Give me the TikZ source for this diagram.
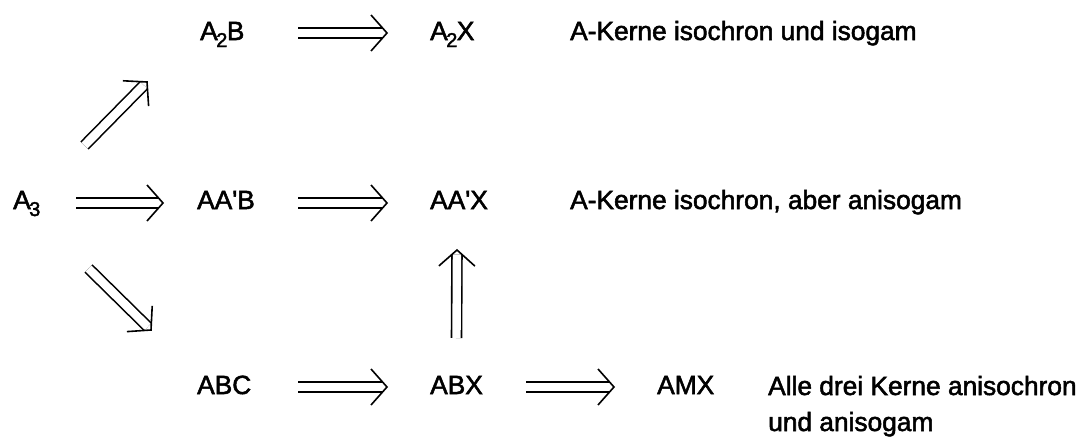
\documentclass[tikz,border=0pt]{standalone}
\usepackage{fontspec}
\setmainfont{Liberation Sans}[Ligatures=TeXOff, FakeBold=2]
\usetikzlibrary{calc}
\newcommand{\subnum}[1]{\kern-1.5pt\raisebox{-7pt}{\fontsize{20}{20}\selectfont #1}\kern-0.5pt}
\tikzset{
  lbl/.style={anchor=base west, inner sep=0pt, font=\fontsize{26.3}{36}\selectfont},
  dblline/.style={draw=black, line width=1.6pt, double=white, double distance=8.4pt},
  headline/.style={draw=black, line width=1.6pt, line cap=butt, line join=miter},
}
\newcommand{\darr}[2]{%
  \draw[dblline] (#1) -- ($(#2)!4.6pt!(#1)$);
  \coordinate (hb) at ($(#2)!16pt!(#1)$);
  \draw[headline] ($(hb)!18pt!90:(#2)$) -- (#2) -- ($(hb)!18pt!-90:(#2)$);
}
\begin{document}
\begin{tikzpicture}[x=1pt,y=-1pt]
\useasboundingbox (0,0) rectangle (1085,442);
% nodes
\node[lbl] (A2B) at (200,40) {A\subnum{2}B};
\node[lbl] (A2X) at (430,40) {A\subnum{2}X};
\node[lbl] (t1)  at (570,40) {A-Kerne isochron und isogam};
\node[lbl] (A3)  at (13,209) {A\subnum{3}};
\node[lbl] (AAB) at (197,209) {AA'B};
\node[lbl] (AAX) at (430,209) {AA'X};
\node[lbl] (t2)  at (570,209) {A-Kerne isochron, aber anisogam};
\node[lbl] (ABC) at (197,394) {ABC};
\node[lbl] (ABX) at (430,394) {ABX};
\node[lbl] (AMX) at (657,394) {AMX};
\node[lbl, align=left] (t3) at (768,431) {Alle drei Kerne anisochron\\und anisogam};
% connector ends
\coordinate (s1) at ([shift={(98,-7)}]A2B.base west);
\coordinate (e1) at ([shift={(-43,-7)}]A2X.base west);
\coordinate (s2) at ([shift={(63,-6)}]A3.base west);
\coordinate (e2) at ([shift={(-34,-6)}]AAB.base west);
\coordinate (s3) at ([shift={(101,-6)}]AAB.base west);
\coordinate (e3) at ([shift={(-43,-6)}]AAX.base west);
\coordinate (s4) at ([shift={(101,-7)}]ABC.base west);
\coordinate (e4) at ([shift={(-43,-7)}]ABX.base west);
\coordinate (s5) at ([shift={(96,-7)}]ABX.base west);
\coordinate (e5) at ([shift={(-43,-7)}]AMX.base west);
\coordinate (s6) at ([shift={(71.5,-63.5)}]A3.base west);
\coordinate (e6) at ([shift={(-53,42)}]A2B.base west);
\coordinate (s7) at ([shift={(75.5,59.5)}]A3.base west);
\coordinate (e7) at ([shift={(-46,-64)}]ABC.base west);
\coordinate (s8) at ([shift={(26.5,-56)}]ABX.base west);
\coordinate (e8) at ([shift={(27,41)}]AAX.base west);
% connectors
\darr{s1}{e1}
\darr{s2}{e2}
\darr{s3}{e3}
\darr{s4}{e4}
\darr{s5}{e5}
\darr{s6}{e6}
\darr{s7}{e7}
\darr{s8}{e8}
\end{tikzpicture}
\end{document}
